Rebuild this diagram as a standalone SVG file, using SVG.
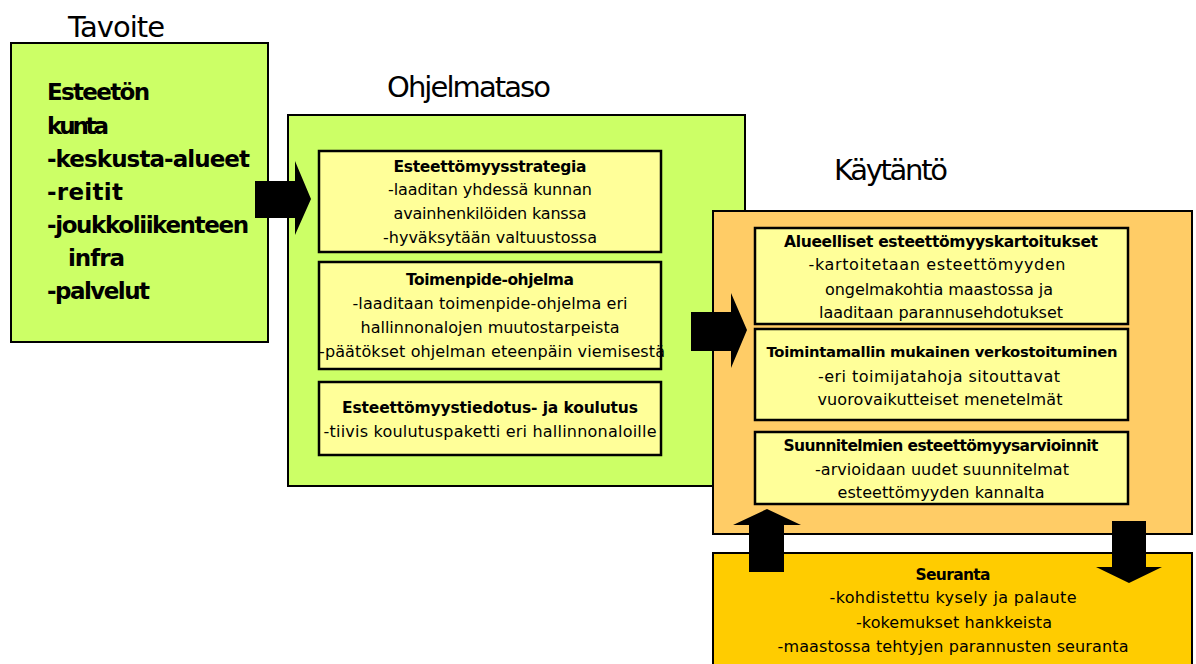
<svg xmlns="http://www.w3.org/2000/svg" width="1196" height="664" viewBox="0 0 1196 664">
<style>
text{font-family:"DejaVu Sans","Liberation Sans",sans-serif;fill:#000}
.h{font-size:29px}
.tv{font-size:23px;font-weight:bold}
.b{font-size:15.5px;font-weight:bold;text-anchor:middle}
.r{font-size:16px;text-anchor:middle}
.outer{stroke:#000;stroke-width:2}
.inner{fill:#FFFF99;stroke:#000;stroke-width:2.5}
.arr{fill:#000}
</style>
<rect width="1196" height="664" fill="#fff"/>

<g id="tavoite">
<text class="h" x="68" y="37" textLength="97">Tavoite</text>
<rect class="outer" x="11" y="43" width="257" height="299" fill="#CCFF66"/>
<text class="tv" x="47" y="100" textLength="103">Esteetön</text>
<text class="tv" x="47" y="134" textLength="62">kunta</text>
<text class="tv" x="47" y="167" textLength="203">-keskusta-alueet</text>
<text class="tv" x="47" y="200" textLength="76">-reitit</text>
<text class="tv" x="47" y="233" textLength="202">-joukkoliikenteen</text>
<text class="tv" x="68" y="266" textLength="57">infra</text>
<text class="tv" x="47" y="299" textLength="103">-palvelut</text>
</g>

<g id="ohjelmataso">
<text class="h" x="387" y="97" textLength="164">Ohjelmataso</text>
<rect class="outer" x="288" y="115" width="457" height="371" fill="#CCFF66"/>
<g id="strategia">
<rect class="inner" x="319" y="151" width="342" height="101"/>
<text class="b" x="490" y="172" textLength="193">Esteettömyysstrategia</text>
<text class="r" x="490" y="195" textLength="204">-laaditan yhdessä kunnan</text>
<text class="r" x="490" y="219" textLength="193">avainhenkilöiden kanssa</text>
<text class="r" x="490" y="243" textLength="214">-hyväksytään valtuustossa</text>
</g>
<g id="toimenpide">
<rect class="inner" x="319" y="262" width="342" height="107"/>
<text class="b" x="490" y="285" textLength="168">Toimenpide-ohjelma</text>
<text class="r" x="490" y="309" textLength="275">-laaditaan toimenpide-ohjelma eri</text>
<text class="r" x="490" y="333" textLength="259">hallinnonalojen muutostarpeista</text>
<text class="r" x="492" y="357" textLength="346">-päätökset ohjelman eteenpäin viemisestä</text>
</g>
<g id="tiedotus">
<rect class="inner" x="319" y="382" width="342" height="73"/>
<text class="b" x="490" y="413" textLength="296">Esteettömyystiedotus-  ja koulutus</text>
<text class="r" x="490" y="437" textLength="333">-tiivis koulutuspaketti eri hallinnonaloille</text>
</g>
</g>

<g id="kaytanto">
<text class="h" x="834" y="180" textLength="114">Käytäntö</text>
<rect class="outer" x="713" y="211" width="479" height="323" fill="#FFCC66"/>
<g id="kartoitukset">
<rect class="inner" x="755" y="228" width="373" height="96"/>
<text class="b" x="941" y="247" textLength="314">Alueelliset esteettömyyskartoitukset</text>
<text class="r" x="937" y="270" textLength="257">-kartoitetaan esteettömyyden</text>
<text class="r" x="939" y="295" textLength="228">ongelmakohtia maastossa ja</text>
<text class="r" x="941" y="318" textLength="244">laaditaan parannusehdotukset</text>
</g>
<g id="verkostoituminen">
<rect class="inner" x="755" y="329" width="373" height="91"/>
<text class="b" x="942" y="357" textLength="351" style="font-size:14.8px">Toimintamallin mukainen verkostoituminen</text>
<text class="r" x="939" y="382" textLength="242">-eri toimijatahoja sitouttavat</text>
<text class="r" x="940" y="405" textLength="245">vuorovaikutteiset menetelmät</text>
</g>
<g id="arvioinnit">
<rect class="inner" x="755" y="432" width="373" height="72"/>
<text class="b" x="941" y="451" textLength="315">Suunnitelmien esteettömyysarvioinnit</text>
<text class="r" x="942" y="475" textLength="254">-arvioidaan uudet suunnitelmat</text>
<text class="r" x="941" y="498" textLength="207">esteettömyyden kannalta</text>
</g>
</g>

<g id="seuranta">
<rect class="outer" x="713" y="553" width="479" height="120" fill="#FFCC00"/>
<text class="b" x="953" y="580" textLength="75">Seuranta</text>
<text class="r" x="953" y="603" textLength="247">-kohdistettu kysely ja palaute</text>
<text class="r" x="954" y="628" textLength="196">-kokemukset hankkeista</text>
<text class="r" x="953" y="652" textLength="351">-maastossa tehtyjen parannusten seuranta</text>
</g>

<g id="connectors">
<polygon class="arr" points="255,181 295,181 295,161 311,199 295,235 295,218 255,218"/>
<polygon class="arr" points="691,312 731,312 731,293 747,330 731,368 731,351 691,351"/>
<polygon class="arr" points="749,572 749,525 733,525 767,509 801,525 784,525 784,572"/>
<polygon class="arr" points="1112,521 1146,521 1146,567 1162,567 1129,583 1096,567 1112,567"/>
</g>
</svg>
